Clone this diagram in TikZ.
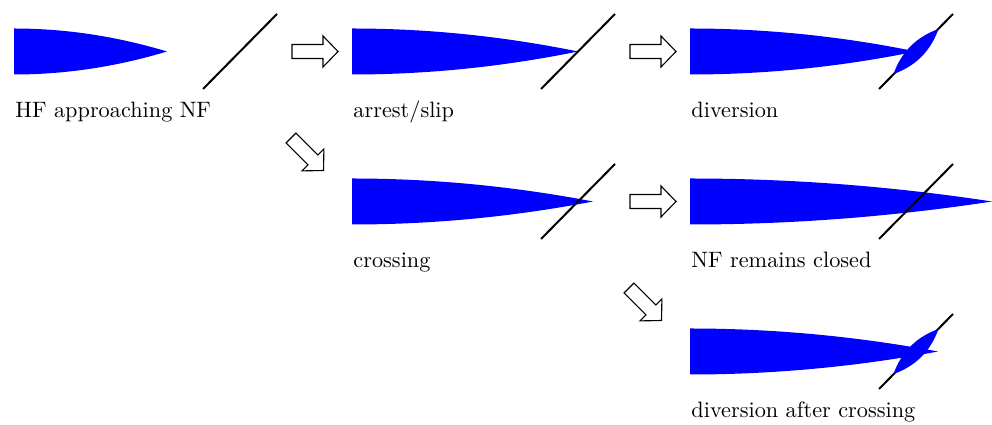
\documentclass[tikz,border=0pt]{standalone}
\begin{document}
\begin{tikzpicture}[x=0.449pt,y=-0.449pt,
  hfcol/.style={fill=blue},
  nfline/.style={draw=black,line width=0.9pt},
  bigarr/.style={draw=black,fill=white,line width=0.5pt,line join=miter},
  lbl/.style={anchor=base west,inner sep=0pt,font=\normalsize}]
\useasboundingbox (0,0) rectangle (992,425);
% hydraulic fracture: x0, yc, length
\newcommand\hfrac[3]{%
  \fill[hfcol] (#1,{#2-23}) .. controls ({#1+#3/3},{#2-23}) and ({#1+2*#3/3},{#2-23*2/3}) .. ({#1+#3},#2)
     .. controls ({#1+2*#3/3},{#2+23*2/3}) and ({#1+#3/3},{#2+23}) .. (#1,{#2+23}) -- cycle;}
% natural fracture: x of lower end, y of lower end
\newcommand\natfrac[2]{\draw[nfline] (#1,#2) -- ({#1+74},{#2-75});}
% lens along natural fracture, centre
\newcommand\flens[2]{%
  \fill[hfcol] ({#1-22.5},{#2+22.5}) .. controls ({#1-0.4},{#2+14.6}) and ({#1+14.6},{#2-0.4}) .. ({#1+22.5},{#2-22.5})
     .. controls ({#1+0.4},{#2-14.6}) and ({#1-14.6},{#2+0.4}) .. cycle;}
\newcommand\bigarrow[3]{%
  \draw[bigarr,shift={(#1,#2)},rotate=#3] (0,-7) -- (31,-7) -- (31,-15.5) -- (46,0) -- (31,15.5) -- (31,7) -- (0,7) -- cycle;}

% panel 1: approaching
\hfrac{14}{51.5}{153}
\natfrac{203}{89}
\node[lbl] (l1) at (15,118) {HF approaching NF};

% panel 2: arrest/slip
\hfrac{352}{51.5}{226}
\natfrac{541}{89}
\node[lbl] (l2) at (353,118) {arrest/slip};

% panel 3: diversion
\natfrac{879}{89}
\hfrac{690}{51.5}{226}
\flens{916}{51.5}
\node[lbl] (l3) at (691,118) {diversion};

% panel 4: crossing
\hfrac{352}{201.5}{241}
\natfrac{541}{239}
\node[lbl] (l4) at (353,268) {crossing};

% panel 5: NF remains closed
\hfrac{690}{201.5}{302}
\natfrac{879}{239}
\node[lbl] (l5) at (691,268) {NF remains closed};

% panel 6: diversion after crossing
\natfrac{879}{389}
\hfrac{690}{351.5}{248}
\flens{916}{351.5}
\node[lbl] (l6) at (691,418) {diversion after crossing};

% arrows
\bigarrow{292}{51.5}{0}
\bigarrow{630}{51.5}{0}
\bigarrow{630}{201.5}{0}
\bigarrow{291}{138}{-45}
\bigarrow{629}{288}{-45}
\end{tikzpicture}
\end{document}
